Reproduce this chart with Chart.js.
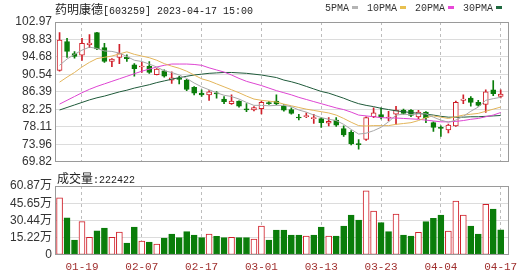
<!DOCTYPE html>
<html>
<head>
<meta charset="utf-8">
<script src="https://cdn.jsdelivr.net/npm/chart.js@4/dist/chart.umd.min.js"></script>
<style>
  body { margin: 0; background: #fff; width: 530px; height: 276px; overflow: hidden; position: relative; }
  canvas { position: absolute; left: 0; }
  #priceChart { top: 0; }
  #volChart { top: 172px; }
  .txt { position: absolute; white-space: nowrap; font: 10px "Liberation Mono", monospace; line-height: 14px; color: #222; }
  .cjk { font-family: "Noto Sans CJK SC", sans-serif; font-size: 12px; }
  .sw { display: inline-block; width: 6px; height: 3px; margin: 0 9px 2px 3px; vertical-align: middle; }
</style>
</head>
<body>
<canvas id="priceChart" width="530" height="172"></canvas>
<canvas id="volChart" width="530" height="104"></canvas>
<div class="txt" style="left:55px;top:2px"><span class="cjk">药明康德</span>[603259] 2023-04-17 15:00</div>
<div class="txt" style="left:325px;top:2px;color:#333">5PMA<span class="sw" style="background:#b4b4b4"></span>10PMA<span class="sw" style="background:#e8c050"></span>20PMA<span class="sw" style="background:#e848d8"></span>30PMA<span class="sw" style="background:#1f6a40"></span></div>
<div class="txt" style="left:57px;top:171px"><span class="cjk">成交量</span>:222422</div>
<script>
// trading days shown (2023)
const dates = ['01-16','01-17','01-18','01-19','01-20','01-30','01-31','02-01','02-02','02-03',
  '02-06','02-07','02-08','02-09','02-10','02-13','02-14','02-15','02-16','02-17',
  '02-20','02-21','02-22','02-23','02-24','02-27','02-28','03-01','03-02','03-03',
  '03-06','03-07','03-08','03-09','03-10','03-13','03-14','03-15','03-16','03-17',
  '03-20','03-21','03-22','03-23','03-24','03-27','03-28','03-29','03-30','03-31',
  '04-03','04-04','04-06','04-07','04-10','04-11','04-12','04-13','04-14','04-17'];
const axisLabels = ['01-19','02-07','02-17','03-01','03-13','03-23','04-04','04-17'];

const opens = [91.5,98.35,95.5,95.1,97.6,100.45,96.9,93.6,94.6,94.6,
  92.8,92.3,92.5,90.5,91.4,89.2,89.5,89.2,87.5,86.1,
  85.7,86.2,84.7,83.6,84.2,82.4,82.1,82.4,83.75,84.2,
  83.0,82.2,80.45,80.5,80.05,80.05,79.0,79.7,77.7,76.8,
  74.1,75.1,80.5,81.0,80.2,81.1,82.1,82.0,80.45,81.6,
  79.1,77.95,77.4,78.35,84.4,84.9,83.9,83.4,86.9,85.3];
const highs = [100.45,99.1,95.95,99.1,100.0,100.5,97.9,94.3,97.7,95.2,
  93.1,93.45,93.6,91.9,91.6,91.15,90.1,89.4,87.65,86.9,
  86.7,86.5,85.3,85.7,84.3,83.6,82.9,84.2,84.15,85.7,
  83.4,82.6,81.05,81.45,81.05,80.3,80.3,80.3,78.35,77.2,
  75.1,80.5,82.6,82.6,81.8,83.0,82.3,82.2,82.0,81.75,
  79.3,78.35,78.75,84.2,85.7,85.3,84.4,86.9,89.05,86.9];
const lows = [91.3,94.6,94.4,93.85,96.9,96.4,93.4,92.4,93.1,93.6,
  90.1,91.0,90.75,90.4,89.9,88.4,88.3,86.7,85.7,85.3,
  84.4,84.9,83.6,83.4,82.8,81.7,81.9,81.2,83.4,83.3,
  81.85,81.1,79.75,80.3,78.95,77.95,78.35,78.2,75.85,73.85,
  72.8,74.9,80.3,80.0,79.5,78.7,81.1,80.5,80.05,79.1,
  77.0,75.85,76.65,78.2,83.6,83.0,83.0,81.5,85.5,84.95];
const closes = [98.67,96.0,94.8,97.9,98.0,96.6,93.6,94.2,95.5,94.3,
  91.9,92.5,91.0,91.8,90.1,89.75,89.35,87.0,86.1,85.7,
  86.4,85.9,84.1,84.2,83.0,82.1,82.7,83.9,83.6,83.55,
  82.07,81.3,80.2,80.8,80.2,79.1,79.4,78.5,76.2,74.1,
  73.9,80.3,81.45,80.4,80.35,82.1,81.3,80.8,81.6,80.3,
  78.0,77.75,78.5,83.9,84.7,83.9,83.2,86.4,85.95,85.85];

// volume in 万
const volumes = [50.5,32.9,13.2,29.4,15.6,21.4,23.8,15.6,20.3,10.6,
  24.7,12.3,11.5,9.7,15.0,18.5,15.3,20.6,17.6,15.3,
  18.5,16.5,15.3,15.6,15.3,15.3,14.1,25.6,13.2,22.0,
  22.0,17.6,17.6,16.8,17.6,24.7,16.8,16.8,25.6,35.3,
  30.9,56.5,38.8,28.5,20.6,36.2,17.6,16.8,20.0,29.4,
  32.4,35.3,21.2,47.6,35.3,25.6,18.5,44.7,40.6,22.24];

const ma5 = [92.7,94.2,95.3,96.3,97.0,96.7,96.1,96.0,95.6,94.8,
  93.9,93.6,93.0,92.3,91.4,91.0,90.4,89.6,88.5,87.6,
  86.9,86.2,85.6,85.3,84.7,83.9,83.2,83.2,83.1,83.2,
  83.2,82.9,82.1,81.6,80.9,80.3,79.9,79.6,78.7,77.5,
  76.4,76.6,77.2,78.0,79.3,80.9,81.1,81.0,81.2,81.2,
  80.4,79.7,79.2,79.7,80.6,81.8,82.8,84.4,84.8,85.1];
const ma10 = [88.7,89.9,91.0,92.3,93.4,94.3,94.6,94.9,95.4,95.9,
  95.3,94.9,94.5,93.9,93.1,92.5,92.0,91.3,90.4,89.5,
  89.0,88.3,87.6,86.9,86.2,85.4,84.7,84.4,84.2,84.0,
  83.5,83.1,82.7,82.3,82.0,81.7,81.4,80.9,80.1,79.2,
  78.4,78.3,78.4,78.4,78.4,78.7,78.9,79.1,79.6,80.3,
  80.7,80.4,80.1,80.5,80.9,81.1,81.3,81.8,82.3,82.8];
const ma20 = [83.5,84.4,85.3,86.2,87.0,87.7,88.3,88.9,89.5,90.1,
  90.7,91.3,91.8,92.3,92.7,93.0,93.0,93.0,92.9,92.7,
  92.1,91.6,91.1,90.4,89.6,88.9,88.4,87.9,87.3,86.7,
  86.2,85.7,85.1,84.6,84.1,83.6,83.1,82.6,82.2,81.6,
  80.9,80.7,80.5,80.3,80.2,80.2,80.1,80.0,79.9,79.7,
  79.5,79.3,79.3,79.4,79.6,79.9,80.1,80.5,80.9,81.5];
const ma30 = [82.1,82.7,83.3,83.9,84.5,85.0,85.4,85.9,86.4,86.8,
  87.3,87.7,88.1,88.6,89.0,89.4,89.8,90.1,90.4,90.6,
  90.8,90.9,91.0,91.0,90.9,90.8,90.6,90.4,90.1,89.8,
  89.2,88.8,88.3,87.7,87.1,86.5,86.1,85.5,84.9,84.2,
  83.6,83.2,82.9,82.5,82.2,81.9,81.7,81.5,81.3,81.1,
  80.9,80.6,80.4,80.4,80.4,80.5,80.5,80.6,80.7,80.8];

const priceTicks = [69.82, 73.96, 78.11, 82.25, 86.39, 90.54, 94.68, 98.83, 102.97];
const volumeTicks = [0, 15.22, 30.44, 45.65, 60.87];

const UP = '#d0202a';
const DOWN = '#0a7d0a';
const X_MIN = -0.61, X_MAX = 60.11;
const labelIdx = axisLabels.map(l => dates.indexOf(l));
const candleUp = dates.map((d, i) => closes[i] >= opens[i]);
const volUp = dates.map((d, i) => i === 0 || closes[i] >= closes[i - 1]);

// box around the plot area
const framePlugin = {
  id: 'frame',
  afterDraw(chart) {
    const a = chart.chartArea, ctx = chart.ctx;
    ctx.save();
    ctx.strokeStyle = '#9a9a9a';
    ctx.lineWidth = 1;
    ctx.strokeRect(Math.round(a.left) + 0.5, Math.round(a.top) + 0.5,
      Math.round(a.right - a.left) - 1, Math.round(a.bottom - a.top) - 1);
    ctx.restore();
  }
};

function xScale(showLabels) {
  return {
    type: 'linear', min: X_MIN, max: X_MAX, offset: false,
    afterBuildTicks: s => { s.ticks = labelIdx.map(v => ({ value: v })); },
    afterFit: s => { s.height = showLabels ? 21 : 0; },
    border: { display: false, dash: [3, 3] },
    grid: { drawTicks: false, offset: false, color: '#bdbdbd' },
    ticks: {
      display: showLabels, autoSkip: false, maxRotation: 0, padding: 5,
      color: '#a0302f', font: { family: '"Liberation Mono"', size: 11 },
      callback: v => dates[v]
    }
  };
}

function yGrid(n) {
  return { drawTicks: false, color: c => (c.index === 0 || c.index === n - 1) ? 'rgba(0,0,0,0)' : '#dcdcdc' };
}

function maLine(vals, color) {
  return {
    type: 'line', data: vals.map((v, i) => ({ x: i, y: v })),
    borderColor: color, borderWidth: 1, pointRadius: 0, tension: 0, order: 0
  };
}

new Chart(document.getElementById('priceChart'), {
  type: 'bar',
  data: {
    datasets: [
      {
        data: dates.map((d, i) => ({ x: i, y: [lows[i], highs[i]] })),
        backgroundColor: candleUp.map(u => u ? UP : DOWN),
        borderWidth: 0, barThickness: 1, grouped: false, order: 2
      },
      {
        data: dates.map((d, i) => ({ x: i, y: [opens[i], closes[i]] })),
        backgroundColor: candleUp.map(u => u ? '#ffffff' : DOWN),
        borderColor: candleUp.map(u => u ? UP : DOWN),
        borderWidth: 1, borderSkipped: false, barThickness: 5, minBarLength: 1,
        grouped: false, order: 1
      },
      maLine(ma5, '#a8a8a8'),
      maLine(ma10, '#e3b55a'),
      maLine(ma20, '#de45d2'),
      maLine(ma30, '#1f5a3a')
    ]
  },
  options: {
    responsive: false,
    animation: false,
    layout: { padding: { top: 22, right: 21, bottom: 7, left: 0 } },
    plugins: { legend: { display: false }, tooltip: { enabled: false } },
    scales: {
      x: xScale(false),
      y: {
        min: 69.82, max: 102.97,
        afterBuildTicks: s => { s.ticks = priceTicks.map(v => ({ value: v })); },
        afterFit: s => { s.width = 55; },
        border: { display: false },
        grid: yGrid(priceTicks.length),
        ticks: {
          padding: 3, color: '#333', autoSkip: false,
          font: { family: '"Liberation Sans"', size: 12 },
          callback: v => v.toFixed(2)
        }
      }
    }
  },
  plugins: [framePlugin]
});

new Chart(document.getElementById('volChart'), {
  type: 'bar',
  data: {
    datasets: [{
      data: volumes.map((v, i) => ({ x: i, y: v })),
      backgroundColor: volUp.map(u => u ? '#ffffff' : DOWN),
      borderColor: volUp.map(u => u ? UP : DOWN),
      borderWidth: 1, borderSkipped: false, barThickness: 6
    }]
  },
  options: {
    responsive: false,
    animation: false,
    layout: { padding: { top: 14, right: 21, bottom: 0, left: 0 } },
    plugins: { legend: { display: false }, tooltip: { enabled: false } },
    scales: {
      x: xScale(true),
      y: {
        min: 0, max: 60.87,
        afterBuildTicks: s => { s.ticks = volumeTicks.map(v => ({ value: v })); },
        afterFit: s => { s.width = 55; },
        border: { display: false },
        grid: yGrid(volumeTicks.length),
        ticks: {
          padding: 3, color: '#333', autoSkip: false,
          font: { family: '"Liberation Sans", "Noto Sans CJK SC"', size: 12 },
          callback: v => v === 0 ? '0' : v.toFixed(2) + '万'
        }
      }
    }
  },
  plugins: [framePlugin]
});
</script>
</body>
</html>
